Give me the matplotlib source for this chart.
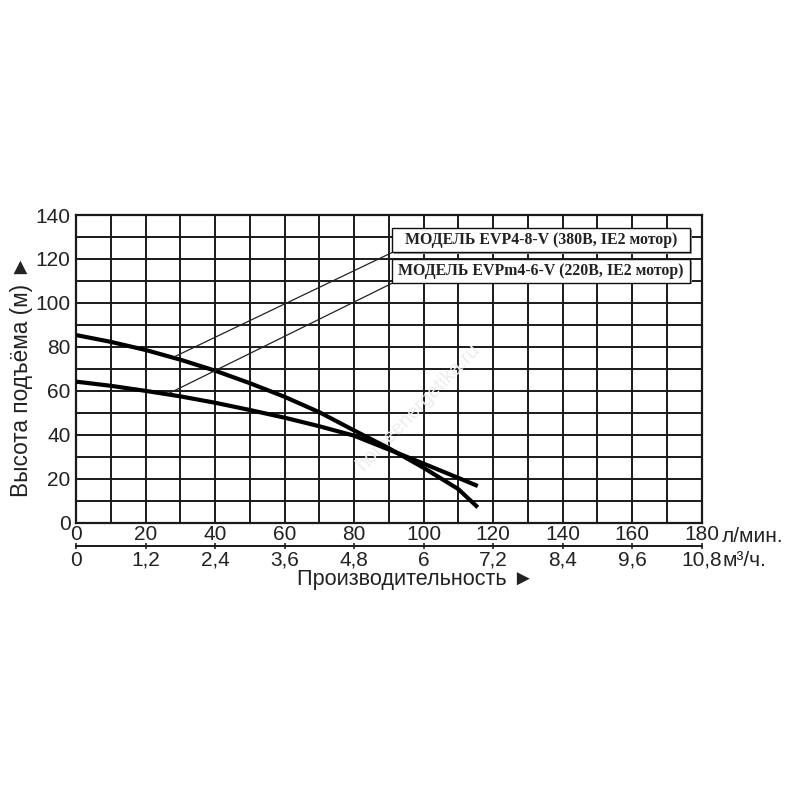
import numpy as np
import matplotlib
matplotlib.use("Agg")
import matplotlib.pyplot as plt
from matplotlib.patches import Rectangle

# ---- data ----
flow_lpm = [0, 10, 20, 30, 40, 50, 60, 70, 80, 90, 100, 110, 115.6]
head_evp4_8 = [85.4, 82.3, 78.6, 74.2, 69.2, 63.5, 57.3, 50.3, 42.0, 33.9, 25.0, 15.3, 7.0]
head_evpm4_6 = [64.2, 62.3, 60.0, 57.5, 54.6, 51.3, 47.8, 43.9, 39.6, 33.3, 26.9, 20.4, 16.7]

x_major = [0, 20, 40, 60, 80, 100, 120, 140, 160, 180]
x_labels = ["0", "20", "40", "60", "80", "100", "120", "140", "160", "180"]
m3h_ticks = [0, 1.2, 2.4, 3.6, 4.8, 6, 7.2, 8.4, 9.6, 10.8]
m3h_labels = ["0", "1,2", "2,4", "3,6", "4,8", "6", "7,2", "8,4", "9,6", "10,8"]
y_major = [0, 20, 40, 60, 80, 100, 120, 140]

model1 = "МОДЕЛЬ EVP4-8-V (380В, IE2 мотор)"
model2 = "МОДЕЛЬ EVPm4-6-V (220В, IE2 мотор)"

sans = ["Liberation Sans", "DejaVu Sans"]
plt.rcParams["font.family"] = sans

fig = plt.figure(figsize=(8, 8), dpi=100)
ax = fig.add_axes([0.095, 0.3466, 0.782, 0.3846])
ax.set_xlim(0, 180)
ax.set_ylim(0, 140)

ax.set_xticks(x_major)
ax.set_xticklabels(x_labels)
ax.set_xticks(np.arange(0, 181, 10), minor=True)
ax.set_yticks(y_major)
ax.set_yticks(np.arange(0, 141, 10), minor=True)
ax.tick_params(which="both", length=0)
ax.tick_params(axis="x", labelsize=15, pad=1.5, colors="#222")
ax.tick_params(axis="y", labelsize=15, pad=4, colors="#222")
ax.grid(which="both", color="#1a1a1a", linewidth=1.4)
ax.set_axisbelow(True)
for s in ax.spines.values():
    s.set_linewidth(1.6)
    s.set_color("#1a1a1a")

# curves
ax.plot(flow_lpm, head_evp4_8, color="black", lw=3.0, solid_capstyle="butt",
        solid_joinstyle="round", zorder=5)
ax.plot(flow_lpm, head_evpm4_6, color="black", lw=3.0, solid_capstyle="butt",
        solid_joinstyle="round", zorder=5)

# annotation boxes
box_x0, box_x1 = 91.0, 176.6
b1 = (123.0, 134.0)
b2 = (109.0, 119.8)
for (y0, y1), txt in [(b1, model1), (b2, model2)]:
    ax.add_patch(Rectangle((box_x0 + 0.5, y0 - 0.6), box_x1 - box_x0, y1 - y0,
                           facecolor="#9a9a9a", edgecolor="none", zorder=6, clip_on=False))
    ax.add_patch(Rectangle((box_x0, y0), box_x1 - box_x0, y1 - y0,
                           facecolor="white", edgecolor="#111", lw=1.0, zorder=7, clip_on=False))
    ax.text((box_x0 + box_x1) / 2, (y0 + y1) / 2, txt, ha="center", va="center",
            family=["Liberation Serif", "DejaVu Serif"], fontweight="bold",
            fontsize=11.4, color="#222", zorder=8)

# leader lines
x_s1, x_s2 = 28.5, 27.0
ax.plot([x_s1, box_x0], [np.interp(x_s1, flow_lpm, head_evp4_8) + 0.8, b1[0]],
        color="#222", lw=0.9, zorder=6)
ax.plot([x_s2, box_x0], [np.interp(x_s2, flow_lpm, head_evpm4_6) + 0.8, b2[0]],
        color="#222", lw=0.9, zorder=6)

# watermark
ax.text(98.4, 52.6, "homeenergetika.ru", rotation=46, fontsize=14.5, color="#ededed",
        ha="center", va="center", zorder=1)

# secondary axis (m3/h)
sec = ax.secondary_xaxis(-0.075, functions=(lambda x: x * 0.06, lambda x: x / 0.06))
sec.set_xticks(m3h_ticks)
sec.set_xticklabels(m3h_labels)
sec.tick_params(direction="inout", length=5, width=1.2, labelsize=15, pad=1.2, colors="#222")
sec.spines["bottom"].set_linewidth(1.4)
sec.spines["bottom"].set_color("#1a1a1a")

# unit labels
fig.text(722 / 800, 1 - 536 / 800, "л/мин.", fontsize=15, color="#222", va="center", ha="left")
fig.text(723 / 800, 1 - 560 / 800, "м³/ч.", fontsize=15, color="#222", va="center", ha="left")

fig.text(415 / 800, 1 - 579 / 800, "Производительность ►", fontsize=15.6, color="#222",
         ha="center", va="center")
fig.text(22 / 800, 1 - 376 / 800, "Высота подъёма (м) ►", fontsize=16.3, color="#222",
         ha="center", va="center", rotation=90)

fig.savefig("out.png", dpi=100, facecolor="white")
